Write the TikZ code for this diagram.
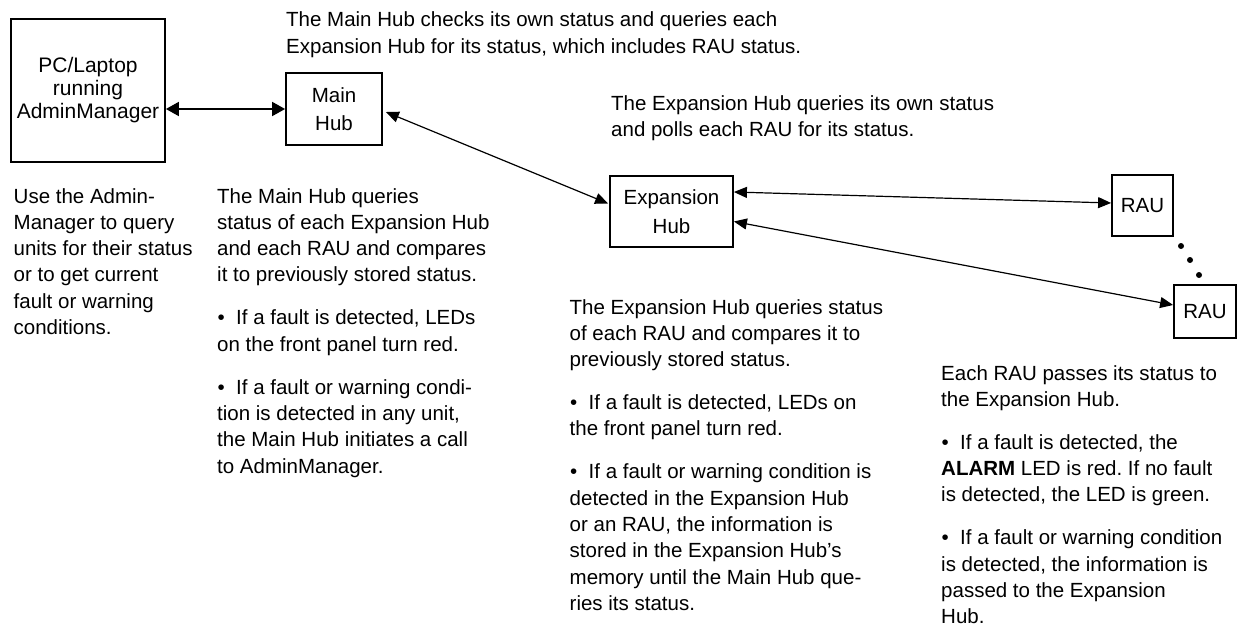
\documentclass[tikz,border=0pt]{standalone}
\usepackage{fontspec}
\setmainfont{Liberation Sans}
\usetikzlibrary{arrows.meta,calc}

% paragraph block whose baseline is the first line's baseline
\newcommand{\txtblock}[1]{\vtop{\hsize=700pt\fontsize{20.5}{26.3}\selectfont
  \frenchspacing\parindent=0pt\parskip=16.7pt\raggedright #1}}
% bulleted paragraph with hanging indent
\newcommand{\bitem}{\par\hangindent=19pt\hangafter=1\noindent
  \makebox[19pt][l]{\hspace{0.5pt}\textbullet}}

\tikzset{
  unit/.style={draw, line width=1.8pt, inner sep=0pt, align=center,
    font=\fontsize{20.5}{28.5}\selectfont},
  note/.style={anchor=base west, inner sep=0pt},
  link/.style={line width=1.2pt,
    {Triangle[length=13pt,width=11pt]}-{Triangle[length=13pt,width=11pt]}},
  thicklink/.style={line width=1.8pt,
    {Triangle[length=13pt,width=14pt]}-{Triangle[length=13pt,width=14pt]}},
  dot/.style={circle, fill, inner sep=0pt, minimum size=6pt}
}

\begin{document}
\begin{tikzpicture}[x=1pt, y=-1pt]
\useasboundingbox (0,0) rectangle (1244,629);

% units
\node[unit, minimum width=154pt, minimum height=143pt,
      font=\fontsize{21}{23}\selectfont] (pc) at (88,90.5)
  {PC/Laptop\\running\\AdminManager};
\node[unit, minimum width=96pt, minimum height=72pt] (main) at (334,109) {Main\\Hub};
\node[unit, minimum width=123pt, minimum height=71pt] (exp) at (671.5,211.5) {Expansion\\Hub};
\node[unit, minimum width=61pt, minimum height=61pt] (rau1) at (1142.5,205.5) {RAU};
\node[unit, minimum width=62pt, minimum height=53pt] (rau2) at (1205,311.5) {RAU};

% ellipsis between the RAUs
\node[dot] (d1) at (1181,246) {};
\node[dot] (d2) at (1190,260) {};
\node[dot] (d3) at (1199,275) {};

% connections
\draw[thicklink] (pc.east |- main.west) -- (main.west);
\draw[link] ($(main.east)+(3,3)$) -- ($(exp.west)+(-1,-8)$);
\draw[link] ($(exp.east)+(0,-19.5)$) -- ($(rau1.west)+(0,-2.5)$);
\draw[link] ($(exp.east)+(0,10)$) -- ($(rau2.west)+(0,-6.5)$);

% descriptions
\node[note] (t1) at (286,27) {\txtblock{The Main Hub checks its own status and queries each\\
  Expansion Hub for its status, which includes RAU status.}};
\node[note] (t2) at (611,110) {\txtblock{The Expansion Hub queries its own status\\
  and polls each RAU for its status.}};

\node[note] (c1) at (13.5,203) {\txtblock{Use the Admin-\\Manager to query\\units for their status\\
  or to get current\\fault or warning\\conditions.}};

\node[note] (c2) at (217,203) {\txtblock{The Main Hub queries\\status of each Expansion Hub\\
  and each RAU and compares\\it to previously stored status.
  \bitem If a fault is detected, LEDs\\on the front panel turn red.
  \bitem If a fault or warning condi-\\tion is detected in any unit,\\
  the Main Hub initiates a call\\to AdminManager.}};

\node[note] (c3) at (569.5,314) {\txtblock{The Expansion Hub queries status\\
  of each RAU and compares it to\\previously stored status.
  \bitem If a fault is detected, LEDs on\\the front panel turn red.
  \bitem If a fault or warning condition is\\detected in the Expansion Hub\\
  or an RAU, the information is\\stored in the Expansion Hub’s\\
  memory until the Main Hub que-\\ries its status.}};

\node[note] (c4) at (941,380) {\txtblock{Each RAU passes its status to\\the Expansion Hub.
  \bitem If a fault is detected, the\\\textbf{ALARM} LED is red. If no fault\\
  is detected, the LED is green.
  \bitem If a fault or warning condition\\is detected, the information is\\
  passed to the Expansion\\Hub.}};
\end{tikzpicture}
\end{document}
